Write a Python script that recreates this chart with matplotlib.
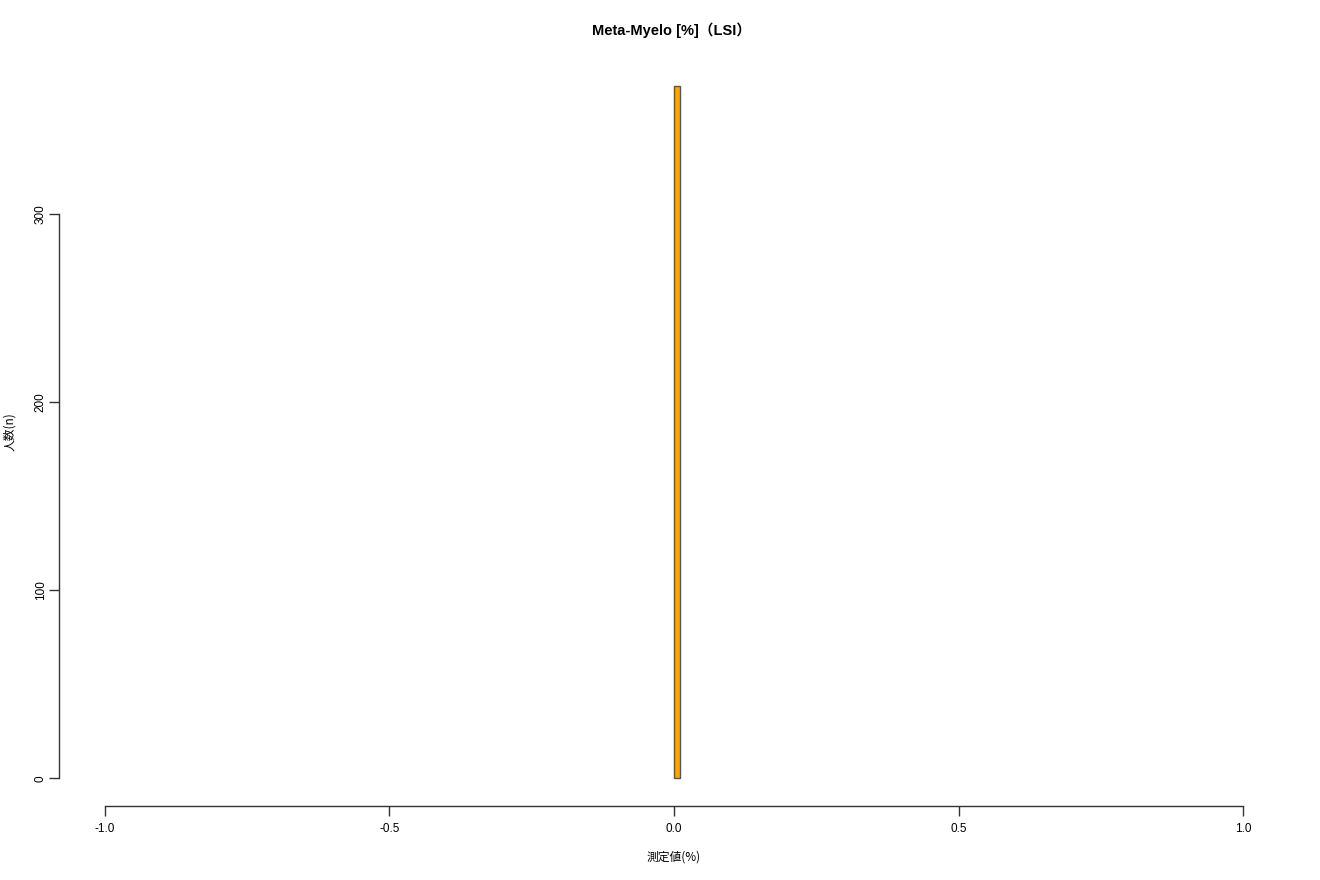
import matplotlib
matplotlib.use("Agg")
import matplotlib.pyplot as plt

plt.rcParams['font.family'] = ['Liberation Sans', 'Noto Sans CJK JP', 'DejaVu Sans']

title = "Meta-Myelo [%]（LSI）"
xlabel = "測定値(%)"
ylabel = "人数(n)"
bin_edges = [0.0, 0.01]
counts = [368]
xticks = [-1.0, -0.5, 0.0, 0.5, 1.0]
xticklabels = ["-1.0", "-0.5", "0.0", "0.5", "1.0"]
yticks = [0, 100, 200, 300]

fig = plt.figure(figsize=(13.2, 8.8), dpi=100)
W, H = 1320, 880
ax = fig.add_axes([59 / W, (880 - 806) / H, (1289 - 59) / W, (806 - 58.5) / H])

ax.bar(bin_edges[0], counts[0], width=bin_edges[1] - bin_edges[0], align='edge',
       color='#FFA500', edgecolor='#555555', linewidth=1.0)

ax.set_xlim(-1.08, 1.08)
ax.set_ylim(-0.04 * counts[0], 1.04 * counts[0])

for s in ['top', 'right']:
    ax.spines[s].set_visible(False)
ax.spines['left'].set_bounds(0, 300)
ax.spines['bottom'].set_bounds(-1.0, 1.0)
for s in ['left', 'bottom']:
    ax.spines[s].set_color('#333333')
    ax.spines[s].set_linewidth(1.0)

ax.set_xticks(xticks)
ax.set_xticklabels(xticklabels)
ax.set_yticks(yticks)
ax.set_yticklabels([str(v) for v in yticks], rotation=90, va='center')
ax.tick_params(axis='both', length=7, width=1.0, color='#333333', labelsize=8.5)
ax.tick_params(axis='x', pad=5.4)
ax.tick_params(axis='y', pad=1.8)

fig.text(674 / W, 1 - 857 / H, xlabel, ha='center', va='center', fontsize=8.5,
         family=['Noto Sans CJK JP', 'DejaVu Sans'])
fig.text(10 / W, 1 - 432 / H, ylabel, ha='center', va='center', fontsize=8.5, rotation=90,
         family=['Noto Sans CJK JP', 'DejaVu Sans'])
fig.text(672 / W, 1 - 30 / H, title, ha='center', va='center', fontsize=10.5, fontweight='bold',
         family=['Liberation Sans', 'Noto Sans CJK JP', 'DejaVu Sans'])

fig.savefig("out.png", dpi=100)
